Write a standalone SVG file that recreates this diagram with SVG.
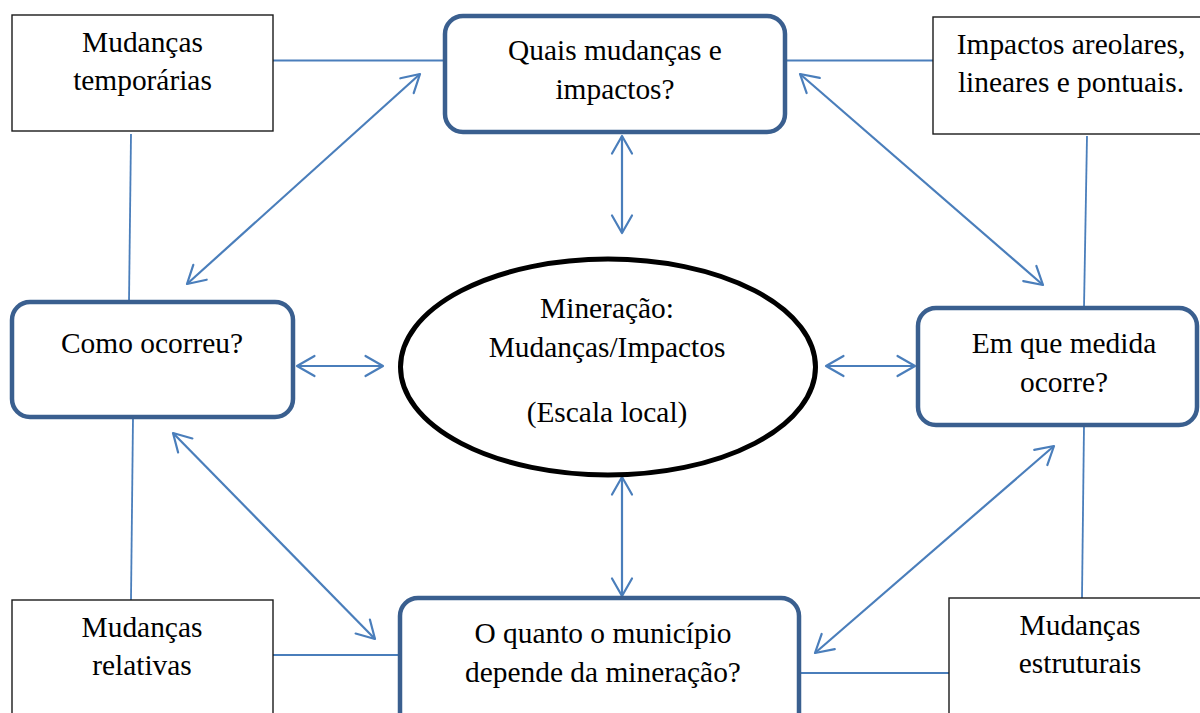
<svg xmlns="http://www.w3.org/2000/svg" width="1200" height="713" viewBox="0 0 1200 713">
<style>
.t{font-family:"Liberation Serif","Times New Roman",serif;font-size:29.4px;fill:#000;text-anchor:middle}
.box{fill:#fff;stroke:#1a1a1a;stroke-width:1.4}
.rbox{fill:#fff;stroke:#3a5f8f;stroke-width:4.5}
.ln{stroke:#4a7ebb;stroke-width:1.8;fill:none}
.ar{stroke:#4a7ebb;stroke-width:2.2;fill:none;marker-start:url(#h);marker-end:url(#h)}
</style>
<defs>
<marker id="h" markerUnits="userSpaceOnUse" viewBox="-20 -12 22 24" refX="0" refY="0" markerWidth="22" markerHeight="24" orient="auto-start-reverse">
<path d="M -17.5 -10 L 0 0 L -17.5 10" fill="none" stroke="#4a7ebb" stroke-width="2.2" stroke-linecap="round" stroke-linejoin="round"/>
</marker>
</defs>
<rect width="1200" height="713" fill="#fff"/>
<g id="connectors">
<line class="ln" x1="273" y1="60.5" x2="445" y2="60.5"/>
<line class="ln" x1="785" y1="60.5" x2="933" y2="60.5"/>
<line class="ln" x1="131" y1="134" x2="129" y2="302"/>
<line class="ln" x1="1087" y1="136" x2="1084" y2="308"/>
<line class="ln" x1="133" y1="417" x2="131" y2="600"/>
<line class="ln" x1="1084" y1="425" x2="1082" y2="598"/>
<line class="ln" x1="273" y1="655" x2="400" y2="655"/>
<line class="ln" x1="799" y1="673" x2="949" y2="673"/>
<line class="ar" x1="420" y1="74" x2="187" y2="284"/>
<line class="ar" x1="800" y1="74" x2="1043" y2="285"/>
<line class="ar" x1="622" y1="136" x2="622" y2="233"/>
<line class="ar" x1="297" y1="366" x2="383" y2="366"/>
<line class="ar" x1="826" y1="366" x2="915" y2="366"/>
<line class="ar" x1="173" y1="433" x2="375" y2="639"/>
<line class="ar" x1="1054" y1="446" x2="815" y2="653"/>
<line class="ar" x1="622" y1="477" x2="622" y2="596"/>
</g>
<g id="n-temporarias">
<rect class="box" x="12" y="15" width="261" height="116"/>
<text class="t" x="142.5" y="52">Mudanças</text>
<text class="t" x="142.5" y="90">temporárias</text>
</g>
<g id="n-quais">
<rect class="rbox" x="445" y="16" width="340" height="116" rx="18" ry="18"/>
<text class="t" x="615" y="60">Quais mudanças e</text>
<text class="t" x="615" y="99">impactos?</text>
</g>
<g id="n-impactos">
<rect class="box" x="933" y="17" width="282" height="117"/>
<text class="t" x="1071" y="54">Impactos areolares,</text>
<text class="t" x="1071" y="92">lineares e pontuais.</text>
</g>
<g id="n-como">
<rect class="rbox" x="12" y="302" width="281" height="115" rx="18" ry="18"/>
<text class="t" x="152" y="353">Como ocorreu?</text>
</g>
<g id="n-centro">
<ellipse cx="608" cy="367" rx="207.5" ry="108" fill="#fff" stroke="#000" stroke-width="5"/>
<text class="t" x="607" y="318">Mineração:</text>
<text class="t" x="607" y="357">Mudanças/Impactos</text>
<text class="t" x="607" y="422">(Escala local)</text>
</g>
<g id="n-medida">
<rect class="rbox" x="918" y="308" width="279" height="117" rx="18" ry="18"/>
<text class="t" x="1064" y="353">Em que medida</text>
<text class="t" x="1064" y="392">ocorre?</text>
</g>
<g id="n-relativas">
<rect class="box" x="12" y="600" width="261" height="130"/>
<text class="t" x="142" y="637">Mudanças</text>
<text class="t" x="142" y="675">relativas</text>
</g>
<g id="n-quanto">
<rect class="rbox" x="400" y="598" width="399" height="135" rx="18" ry="18"/>
<text class="t" x="603" y="643">O quanto o município</text>
<text class="t" x="603" y="682">depende da mineração?</text>
</g>
<g id="n-estruturais">
<rect class="box" x="949" y="598" width="266" height="130"/>
<text class="t" x="1080" y="635">Mudanças</text>
<text class="t" x="1080" y="673">estruturais</text>
</g>
</svg>
